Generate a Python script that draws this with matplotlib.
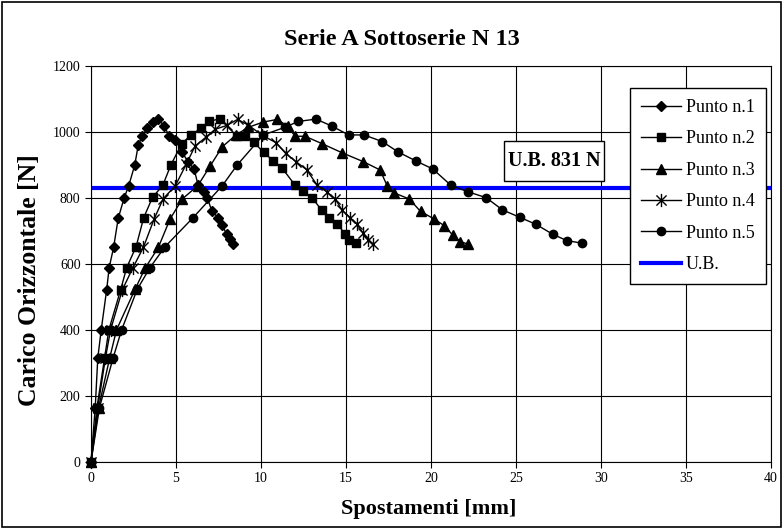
import matplotlib
matplotlib.use('Agg')
import matplotlib.pyplot as plt
from matplotlib.path import Path
from matplotlib.patches import Rectangle

# Spostamenti [mm] e carichi [N] letti per ciascun punto di misura
x1 = [0, 0.25, 0.4, 0.6, 0.92, 1.07, 1.33, 1.6, 1.95, 2.22, 2.57, 2.78, 3.0, 3.3, 3.62, 3.95,
      4.3, 4.6, 4.95, 5.37, 5.7, 6.07, 6.3, 6.62, 6.85, 7.1, 7.5, 7.72, 7.98, 8.15, 8.35]
y1 = [0, 165, 315, 400, 521, 589, 650, 738, 800, 837, 899, 960, 987, 1011, 1030, 1040,
      1018, 988, 976, 938, 910, 887, 839, 819, 799, 762, 738, 718, 690, 675, 662]

x2 = [0, 0.35, 0.8, 1.05, 1.74, 2.1, 2.65, 3.1, 3.62, 4.22, 4.7, 5.33, 5.86, 6.45, 6.96, 7.57,
      8.57, 9.06, 9.57, 10.15, 10.72, 11.25, 12.0, 12.47, 13.0, 13.57, 14.02, 14.49, 14.94, 15.17, 15.59]
y2 = [0, 165, 315, 400, 521, 589, 652, 740, 802, 838, 900, 964, 990, 1011, 1032, 1040,
      988, 988, 970, 938, 913, 890, 839, 820, 801, 763, 740, 721, 691, 673, 664]

x3 = [0, 0.45, 1.1, 1.5, 2.59, 3.18, 3.96, 4.65, 5.37, 6.28, 7.0, 7.72, 8.53, 9.25, 10.12, 10.96,
      11.58, 12.0, 12.59, 13.57, 14.77, 16.02, 17.0, 17.43, 17.8, 18.72, 19.39, 20.2, 20.78, 21.27, 21.7, 22.19]
y3 = [0, 165, 315, 400, 523, 587, 650, 736, 797, 837, 896, 955, 991, 1014, 1030, 1038,
      1017, 987, 987, 965, 937, 910, 885, 836, 816, 797, 759, 736, 716, 688, 668, 660]

x4 = [0, 0.4, 0.85, 1.15, 1.84, 2.45, 3.08, 3.72, 4.25, 4.96, 5.6, 6.12, 6.78, 7.3, 8.0, 8.62,
      9.25, 10.04, 10.9, 11.45, 12.08, 12.68, 13.3, 13.86, 14.38, 14.77, 15.25, 15.65, 15.98, 16.3, 16.56]
y4 = [0, 165, 315, 400, 521, 587, 650, 737, 798, 837, 902, 957, 985, 1008, 1020, 1038,
      1021, 991, 967, 935, 909, 886, 839, 819, 796, 763, 740, 720, 695, 673, 661]

x5 = [0, 0.5, 1.3, 1.8, 2.72, 3.47, 4.35, 6.0, 7.72, 8.6, 10.14, 11.4, 12.2, 13.24, 14.16,
      15.15, 16.06, 17.13, 18.08, 19.12, 20.1, 21.18, 22.16, 23.24, 24.2, 25.24, 26.18, 27.16, 27.98, 28.88]
y5 = [0, 165, 315, 400, 523, 589, 652, 740, 837, 900, 991, 1014, 1032, 1039, 1018,
      991, 991, 971, 939, 912, 888, 838, 819, 801, 764, 741, 720, 690, 671, 663]

ub = 831  # carico ultimo di riferimento [N]

plt.rcParams['font.family'] = ['Liberation Serif', 'DejaVu Serif']

fig = plt.figure(figsize=(7.83, 5.29), dpi=100)
ax = fig.add_axes([0.1162, 0.1267, 0.8685, 0.7486])

# marcatore a stella (x + barra verticale)
stella = Path([(-1, -1), (1, 1), (-1, 1), (1, -1), (0, -1.3), (0, 1.3)],
              [Path.MOVETO, Path.LINETO] * 3)

kw = dict(color='black', lw=1, clip_on=False, zorder=3)
ax.plot(x1, y1, marker='D', ms=5.5, label='Punto n.1', **kw)
ax.plot(x2, y2, marker='s', ms=5.5, label='Punto n.2', **kw)
ax.plot(x3, y3, marker='^', ms=6.5, label='Punto n.3', **kw)
ax.plot(x4, y4, marker=stella, ms=9.5, mfc='none', mew=1, label='Punto n.4', **kw)
ax.plot(x5, y5, marker='o', ms=6, label='Punto n.5', **kw)
ax.axhline(ub, color=(0, 0, 1), lw=3, label='U.B.', zorder=2)

ax.set_xlim(0, 40)
ax.set_ylim(0, 1200)
ax.set_xticks(range(0, 45, 5))
ax.set_yticks(range(0, 1400, 200))
ax.grid(True, color='black', lw=0.8)
ax.set_axisbelow(True)
ax.tick_params(direction='out', length=4, width=0.8, labelsize=10, colors='black')
for s in ax.spines.values():
    s.set_linewidth(0.8)
    s.set_color('black')

# etichetta del carico ultimo con riquadro
ax.add_patch(Rectangle((0.607, 0.710), 0.147, 0.101, transform=ax.transAxes,
                       fc='white', ec='black', lw=1, zorder=5))
ax.text(0.681, 0.760, 'U.B. %d N' % ub, transform=ax.transAxes, ha='center', va='center',
        fontsize=14.5, fontweight='bold', zorder=6)

leg = ax.legend(loc='upper left', bbox_to_anchor=(0.7926, 0.944), fontsize=13,
                frameon=True, fancybox=False, framealpha=1, edgecolor='black',
                handlelength=2.2, labelspacing=0.8, borderpad=0.6, handletextpad=0.3,
                borderaxespad=0)
leg.get_frame().set_linewidth(1)

fig.text(0.513, 0.926, 'Serie A Sottoserie N 13', ha='center', va='center',
         fontsize=17.5, fontweight='bold')
fig.text(0.038, 0.471, 'Carico Orizzontale [N]', ha='center', va='center',
         rotation=90, fontsize=18.5, fontweight='bold')
fig.text(0.547, 0.038, 'Spostamenti [mm]', ha='center', va='center',
         fontsize=16, fontweight='bold')

# cornice esterna del grafico
fig.patches.append(Rectangle((0.003, 0.004), 0.994, 0.992, transform=fig.transFigure,
                             fill=False, ec='black', lw=1.2))

fig.savefig('out.png', dpi=100)
